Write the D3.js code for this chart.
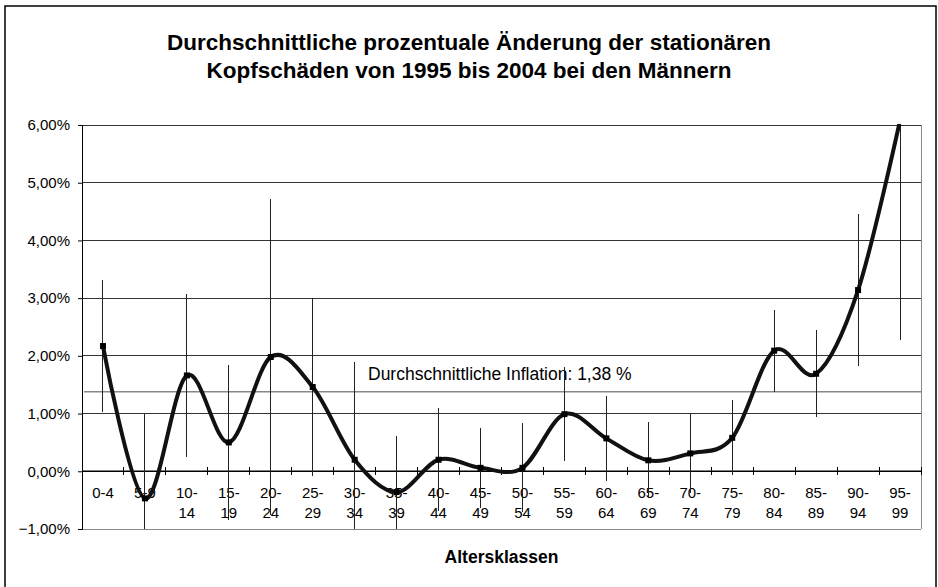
<!DOCTYPE html>
<html>
<head>
<meta charset="utf-8">
<script src="https://cdn.jsdelivr.net/npm/d3@7"></script>
<style>
  body { margin: 0; background: #fff; }
  svg text { font-family: "Liberation Sans", Arial, sans-serif; fill: #000; }
</style>
</head>
<body>
<svg id="chart"></svg>
<script>
// age classes
const categories = ["0-4", "5-9", "10-14", "15-19", "20-24", "25-29", "30-34", "35-39", "40-44", "45-49",
  "50-54", "55-59", "60-64", "65-69", "70-74", "75-79", "80-84", "85-89", "90-94", "95-99"];
// mean change in % per age class
const values = [2.17, -0.47, 1.66, 0.50, 1.98, 1.46, 0.20, -0.36, 0.20, 0.06,
  0.06, 0.99, 0.57, 0.19, 0.31, 0.58, 2.09, 1.69, 3.14, 6.08];
// error bar (+/-) in %
const errors = [1.14, 1.47, 1.42, 1.34, 2.73, 1.54, 1.69, 0.98, 0.89, 0.69,
  0.77, 0.82, 0.73, 0.66, 0.69, 0.65, 0.71, 0.75, 1.31, 3.80];
const yTicks = [-1, 0, 1, 2, 3, 4, 5, 6];
const inflation = 1.38;

const W = 938, H = 587;
const plot = { left: 82, right: 921, top: 125, bottom: 529 };

const svg = d3.select("#chart").attr("width", W).attr("height", H);

// outer frame
svg.append("rect")
  .attr("x", 5).attr("y", 6)
  .attr("width", 931).attr("height", 600)
  .attr("fill", "#fff")
  .attr("stroke", "#000")
  .attr("stroke-width", 1.5);

const de = d3.formatLocale({ decimal: ",", thousands: ".", grouping: [3], currency: ["", " €"] });
const fmtPct = v => de.format(".2f")(v) + "%";

const x = d3.scaleBand().domain(categories).range([plot.left, plot.right]);
const y = d3.scaleLinear().domain([-1, 6]).range([plot.bottom, plot.top]);
const cx = d => x(d) + x.bandwidth() / 2;

svg.append("defs").append("clipPath").attr("id", "clip")
  .append("rect")
  .attr("x", plot.left).attr("y", plot.top - 1)
  .attr("width", plot.right - plot.left).attr("height", plot.bottom - plot.top + 1);

// title
const title = svg.append("text")
  .attr("text-anchor", "middle")
  .style("font-size", "22.5px")
  .style("font-weight", "bold");
title.append("tspan").attr("x", W / 2).attr("y", 50)
  .text("Durchschnittliche prozentuale Änderung der stationären");
title.append("tspan").attr("x", W / 2).attr("y", 78)
  .text("Kopfschäden von 1995 bis 2004 bei den Männern");

// gridlines
svg.append("g")
  .selectAll("line")
  .data(yTicks)
  .join("line")
  .attr("x1", plot.left).attr("x2", plot.right)
  .attr("y1", d => y(d)).attr("y2", d => y(d))
  .attr("stroke", d => d === -1 ? "#888" : "#333")
  .attr("stroke-width", 1)
  .attr("shape-rendering", "crispEdges");

// plot area right border
svg.append("line")
  .attr("x1", plot.right).attr("x2", plot.right)
  .attr("y1", plot.top).attr("y2", plot.bottom)
  .attr("stroke", "#888")
  .attr("shape-rendering", "crispEdges");

// y axis
const yAxis = svg.append("g")
  .attr("transform", `translate(${plot.left},0)`)
  .call(d3.axisLeft(y).tickValues(yTicks).tickFormat(fmtPct).tickSize(4).tickPadding(8));
yAxis.select(".domain").attr("stroke", "#000").attr("shape-rendering", "crispEdges");
yAxis.selectAll(".tick text").style("font-size", "15px").style("font-family", "'Liberation Sans', Arial, sans-serif");

// inflation line
svg.append("line")
  .attr("x1", plot.left + 2).attr("x2", plot.right)
  .attr("y1", y(inflation)).attr("y2", y(inflation))
  .attr("stroke", "#888")
  .attr("stroke-width", 1.5);
svg.append("text")
  .attr("x", 368).attr("y", y(inflation) - 12)
  .style("font-size", "17.5px")
  .text("Durchschnittliche Inflation: " + de.format(".2f")(inflation) + " %");

// x axis at 0
const xAxisG = svg.append("g");
xAxisG.append("line")
  .attr("x1", plot.left).attr("x2", plot.right)
  .attr("y1", y(0)).attr("y2", y(0))
  .attr("stroke", "#000")
  .attr("stroke-width", 1.5);
xAxisG.selectAll(".xtick")
  .data(categories.slice(1).concat(["end"]))
  .join("line")
  .attr("class", "xtick")
  .attr("x1", d => d === "end" ? plot.right : x(d))
  .attr("x2", d => d === "end" ? plot.right : x(d))
  .attr("y1", y(0) - 4).attr("y2", y(0) + 4)
  .attr("stroke", "#000")
  .attr("shape-rendering", "crispEdges");

const xl = xAxisG.selectAll(".xlab")
  .data(categories)
  .join("text")
  .attr("class", "xlab")
  .attr("text-anchor", "middle")
  .style("font-size", "15px");
xl.each(function (d) {
  const parts = d.length > 3 ? [d.split("-")[0] + "-", d.split("-")[1]] : [d];
  d3.select(this).selectAll("tspan")
    .data(parts)
    .join("tspan")
    .attr("x", cx(d))
    .attr("y", (p, i) => y(0) + 27 + i * 20)
    .text(p => p);
});

// x axis title
svg.append("text")
  .attr("x", (plot.left + plot.right) / 2)
  .attr("y", 563)
  .attr("text-anchor", "middle")
  .style("font-size", "17.5px")
  .style("font-weight", "bold")
  .text("Altersklassen");

const data = categories.map((c, i) => ({ c, v: values[i], e: errors[i] }));
const g = svg.append("g").attr("clip-path", "url(#clip)");

// error bars
g.selectAll(".err")
  .data(data)
  .join("line")
  .attr("class", "err")
  .attr("x1", d => cx(d.c)).attr("x2", d => cx(d.c))
  .attr("y1", d => y(d.v + d.e)).attr("y2", d => y(d.v - d.e))
  .attr("stroke", "#222")
  .attr("stroke-width", 1)
  .attr("shape-rendering", "crispEdges");

// smoothed line
const line = d3.line()
  .x(d => cx(d.c))
  .y(d => y(d.v))
  .curve(d3.curveCardinal.tension(0));
g.append("path")
  .datum(data)
  .attr("fill", "none")
  .attr("stroke", "#111")
  .attr("stroke-width", 4)
  .attr("d", line);

// markers
g.selectAll(".mk")
  .data(data)
  .join("rect")
  .attr("class", "mk")
  .attr("x", d => cx(d.c) - 3).attr("y", d => y(d.v) - 3)
  .attr("width", 6).attr("height", 6)
  .attr("fill", "#000");
</script>
</body>
</html>
